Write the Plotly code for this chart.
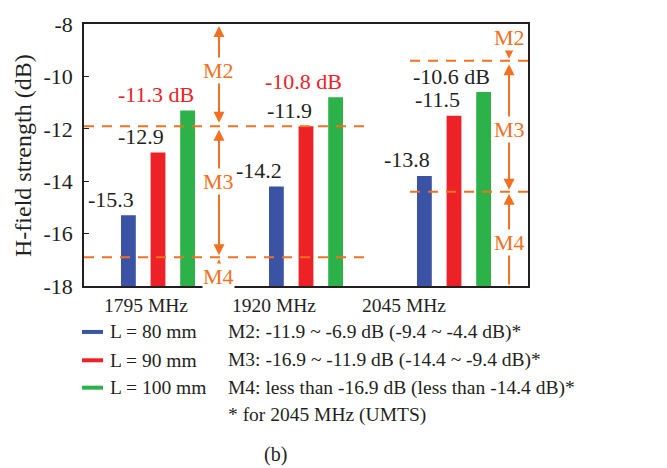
import plotly.graph_objects as go

# ---- data ----
freqs = ["1795 MHz", "1920 MHz", "2045 MHz"]
series_names = ["L = 80 mm", "L = 90 mm", "L = 100 mm"]
h_80 = [-15.3, -14.2, -13.8]
h_90 = [-12.9, -11.9, -11.5]
h_100 = [-11.3, -10.8, -10.6]
# mode boundaries (M2/M3, M3/M4) in dB
bounds_dcs = [-11.9, -16.9]
bounds_umts = [-9.4, -14.4]
legend_notes = [
    "M2: -11.9 ~ -6.9 dB (-9.4 ~ -4.4 dB)*",
    "M3: -16.9 ~ -11.9 dB (-14.4 ~ -9.4 dB)*",
    "M4: less than -16.9 dB (less than -14.4 dB)*",
    "* for 2045 MHz (UMTS)",
]
y_ticks = [-8, -10, -12, -14, -16, -18]
y_tick_text = ["-8", "-10", "-12", "-14", "-16", "-18"]
y_floor, y_top = -18, -8

# ---- style ----
FONT = "Liberation Serif"
BLUE, RED, GREEN = "#3A53A4", "#EC2227", "#2DB24A"
ORANGE = "#F37021"
INK = "#231F20"
W, H = 667, 468
L, R, T, B = 84, 528, 18, 286  # plot area in pixels


def pxx(p):
    return (p - L) / (R - L)


def pxy(p):
    return 1 - (p - T) / (B - T)


fig = go.Figure()
xs = list(range(len(freqs)))
colors = [BLUE, RED, GREEN]
all_vals = [h_80, h_90, h_100]
# bars rise from the -18 dB floor up to each value
for name, vals, c in zip(series_names, all_vals, colors):
    fig.add_trace(go.Bar(x=xs, y=[v - y_floor for v in vals], base=y_floor,
                         name=name, marker_color=c, marker_line_width=0,
                         showlegend=False))

annotations = []
shapes = []

# value labels, right-aligned on each bar
offsets = [-0.2, 0.0, 0.2]
for si, (vals, off) in enumerate(zip(all_vals, offsets)):
    for i, v in enumerate(vals):
        txt = f"{v:.1f}"
        col = INK
        if si == 2:
            txt += " dB"
            col = RED if i < 2 else INK
        annotations.append(dict(x=i + off, y=v, xref="x", yref="y", text=txt,
                                showarrow=False, xanchor="right", yanchor="middle",
                                xshift=8, yshift=16,
                                font=dict(family=FONT, size=22, color=col)))

# category labels
cat_pos = [-0.078, 0.787, 1.662]
for xp, lab in zip(cat_pos, freqs):
    annotations.append(dict(x=xp, y=0, xref="x", yref="paper", text=lab,
                            showarrow=False, xanchor="center", yanchor="middle",
                            yshift=-19, font=dict(family=FONT, size=19.5, color=INK)))

# dashed boundary lines
for b in bounds_dcs:
    shapes.append(dict(type="line", xref="x", yref="y", x0=-0.5, x1=1.432, y0=b, y1=b,
                       line=dict(color=ORANGE, width=2, dash="10px,8px")))
for b in bounds_umts:
    shapes.append(dict(type="line", xref="x", yref="y", x0=1.703, x1=2.51, y0=b, y1=b,
                       line=dict(color=ORANGE, width=2, dash="10px,8px")))


def arrow(x, tip, tail, both=False):
    return dict(x=x, y=tip, ax=x, ay=tail, xref="x", yref="y", axref="x", ayref="y",
                text="", showarrow=True, arrowhead=2, arrowsize=1.1, arrowwidth=2,
                arrowcolor=ORANGE, arrowside="end+start" if both else "end",
                standoff=2, startstandoff=2 if both else 0)


def mlabel(x, y, t):
    return dict(x=x, y=y, xref="x", yref="y", text=t, showarrow=False,
                bgcolor="white", borderpad=0, xanchor="center", yanchor="middle",
                font=dict(family=FONT, size=22, color=ORANGE))


xl, xr = 0.412, 2.372
# 1795 / 1920 MHz modes
annotations += [
    arrow(xl, y_top, bounds_dcs[0], both=True),
    arrow(xl, bounds_dcs[1], bounds_dcs[0], both=True),
    arrow(xl, bounds_dcs[1], y_floor),
    mlabel(xl, -9.77, "M2"),
    mlabel(xl, -14.03, "M3"),
    mlabel(xl, -17.65, "M4"),
]
# 2045 MHz modes
annotations += [
    arrow(xr, bounds_umts[0], y_top),
    arrow(xr, bounds_umts[1], bounds_umts[0], both=True),
    arrow(xr, bounds_umts[1], y_floor),
    mlabel(xr, -8.51, "M2"),
    mlabel(xr, -12.02, "M3"),
    mlabel(xr, -16.35, "M4"),
]

# legend: colour swatches and notes
rows_y = [333, 362, 390, 418]
for c, name, yy in zip(colors, series_names, rows_y):
    shapes.append(dict(type="line", xref="paper", yref="paper",
                       x0=pxx(82), x1=pxx(103), y0=pxy(yy), y1=pxy(yy),
                       line=dict(color=c, width=4)))
    annotations.append(dict(x=pxx(108), y=pxy(yy), xref="paper", yref="paper",
                            text=name, showarrow=False, xanchor="left", yanchor="middle",
                            font=dict(family=FONT, size=19.5, color=INK)))
for note, yy in zip(legend_notes, rows_y):
    annotations.append(dict(x=pxx(226), y=pxy(yy), xref="paper", yref="paper",
                            text=note, showarrow=False, xanchor="left", yanchor="middle",
                            font=dict(family=FONT, size=19.5, color=INK)))
annotations.append(dict(x=pxx(275), y=pxy(458), xref="paper", yref="paper",
                        text="(b)", showarrow=False, xanchor="center", yanchor="middle",
                        font=dict(family=FONT, size=20, color=INK)))

# rotated axis title
annotations.append(dict(x=pxx(23), y=pxy(153), xref="paper", yref="paper",
                        text="H-field strength (dB)", textangle=-90, showarrow=False,
                        xanchor="center", yanchor="middle",
                        font=dict(family=FONT, size=24, color=INK)))

fig.update_layout(
    width=W, height=H,
    margin=dict(l=L, r=W - R, t=T, b=H - B, pad=0),
    paper_bgcolor="white", plot_bgcolor="white",
    barmode="group", bargap=0.4, bargroupgap=0.5,
    font=dict(family=FONT, size=20, color=INK),
    annotations=annotations, shapes=shapes,
)
fig.update_xaxes(range=[-0.5, 2.5], showticklabels=False, ticks="",
                 showline=True, linecolor=INK, linewidth=1.5, mirror=True,
                 showgrid=False, zeroline=False)
fig.update_yaxes(range=[y_floor, y_top], tickvals=y_ticks, ticktext=y_tick_text,
                 ticks="inside", ticklen=5, tickwidth=1, tickcolor=INK,
                 showline=True, linecolor=INK, linewidth=1.5, mirror=True,
                 showgrid=False, zeroline=False, ticklabelstandoff=5,
                 tickfont=dict(family=FONT, size=22, color=INK))

fig.write_html("out.html")
